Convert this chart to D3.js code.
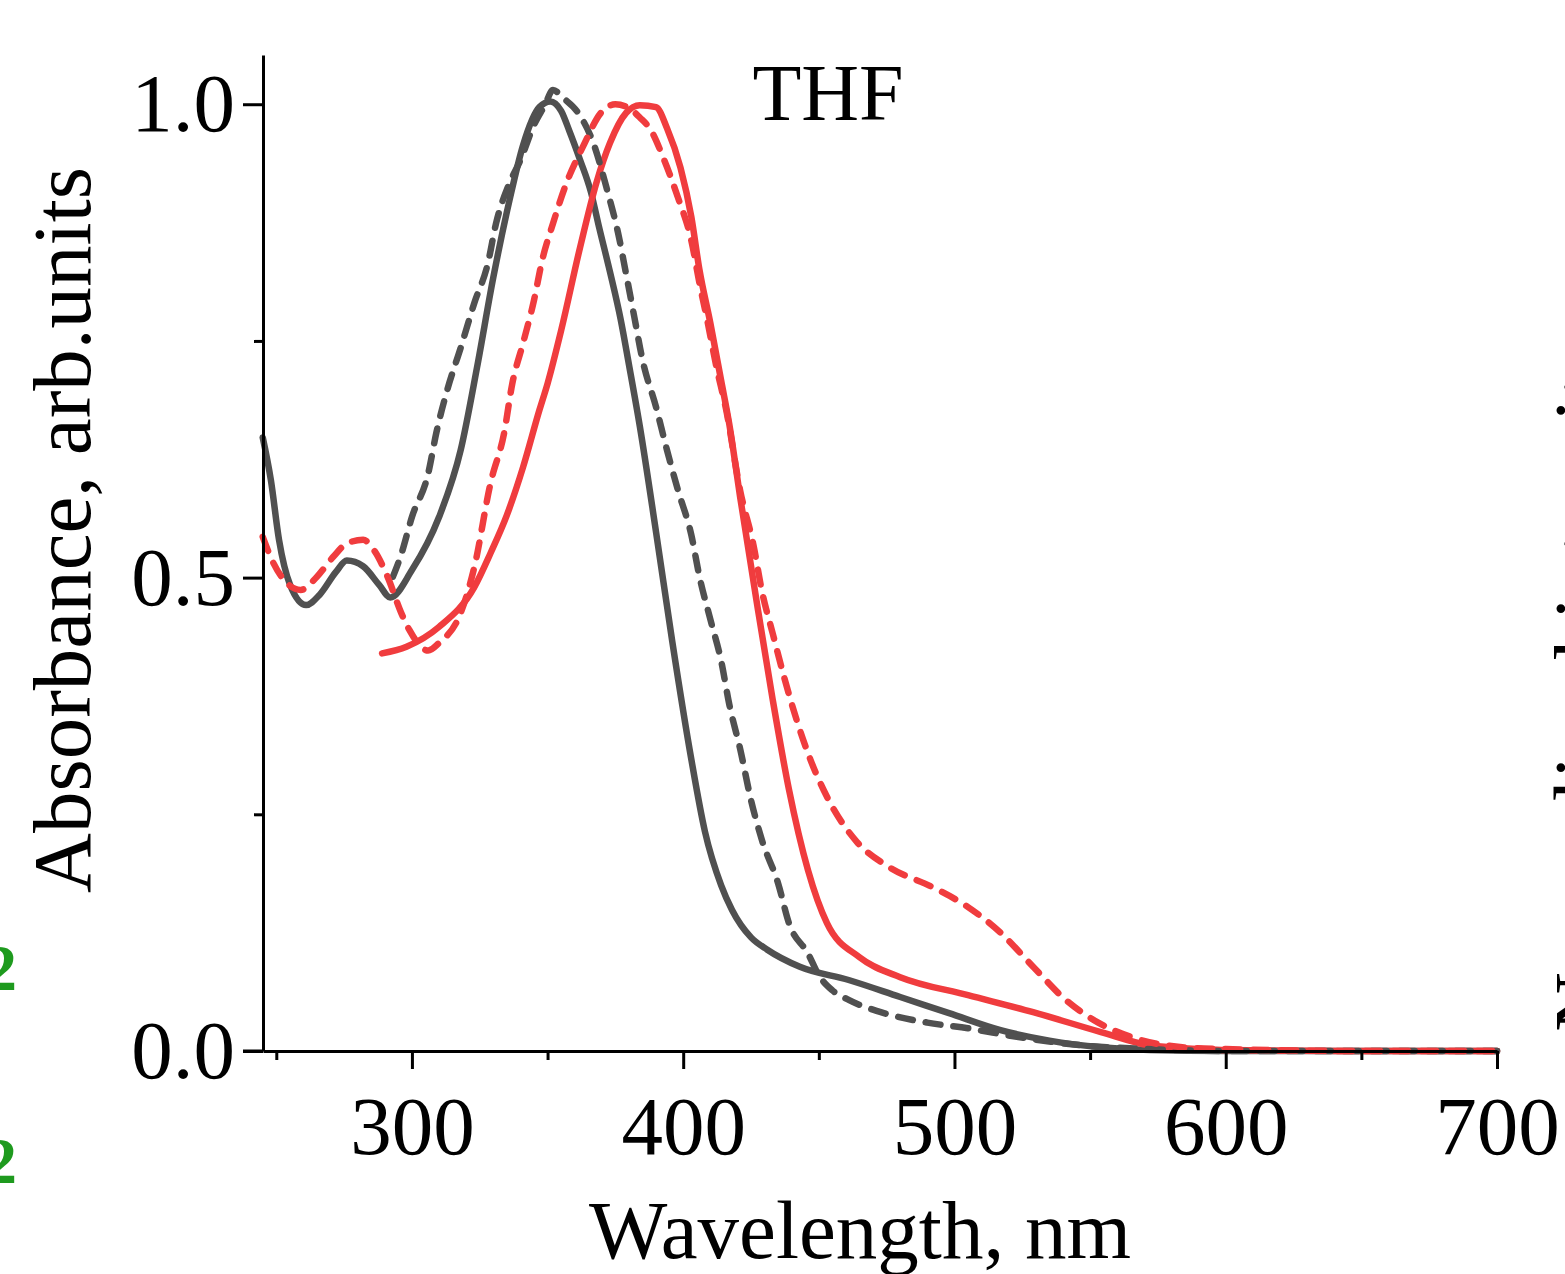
<!DOCTYPE html>
<html>
<head>
<meta charset="utf-8">
<script src="https://cdn.jsdelivr.net/npm/d3@7"></script>
<style>
  body { margin: 0; background: #fff; overflow: hidden; }
  svg { display: block; }
  text { font-family: "Liberation Serif", "Times New Roman", serif; }
</style>
</head>
<body>
<div id="chart"></div>
<script>
// wavelength (nm) / absorbance pairs
var blackSolidX = [245, 248, 251, 255, 261, 266, 272, 276, 282, 288, 292, 300, 310, 318, 324, 330, 336, 341, 347, 351, 355, 358, 362, 366, 369, 373, 377, 380, 384, 390, 396, 403, 408, 414, 418, 425, 431, 443, 461, 480, 498, 517, 535, 554, 572, 600, 650, 700];
var blackSolidY = [0.648, 0.603, 0.540, 0.493, 0.471, 0.482, 0.506, 0.518, 0.512, 0.492, 0.479, 0.508, 0.564, 0.635, 0.722, 0.817, 0.899, 0.957, 0.997, 1.003, 0.993, 0.972, 0.941, 0.907, 0.870, 0.823, 0.772, 0.725, 0.660, 0.548, 0.432, 0.308, 0.232, 0.175, 0.149, 0.120, 0.107, 0.089, 0.075, 0.057, 0.040, 0.022, 0.011, 0.004, 0.001, 0.000, 0.000, 0.000];

var blackDashX = [293, 296, 300, 306, 309, 313, 318, 323, 328, 331, 336, 340, 345, 349, 352, 356, 361, 367, 372, 376, 379, 382, 385, 390, 394, 398, 403, 406, 410, 414, 417, 421, 425, 429, 435, 439, 446, 450, 455, 461, 474, 490, 505, 523, 547, 572, 600, 650, 700];
var blackDashY = [0.501, 0.524, 0.564, 0.610, 0.653, 0.698, 0.743, 0.790, 0.832, 0.874, 0.917, 0.941, 0.978, 0.999, 1.015, 1.006, 0.992, 0.958, 0.909, 0.864, 0.820, 0.775, 0.730, 0.680, 0.635, 0.593, 0.545, 0.501, 0.456, 0.412, 0.366, 0.319, 0.265, 0.223, 0.177, 0.135, 0.103, 0.080, 0.064, 0.054, 0.040, 0.030, 0.024, 0.015, 0.006, 0.002, 0.000, 0.000, 0.000];

var redSolidX = [289, 298, 310, 323, 329, 335, 341, 347, 350, 355, 362, 368, 373, 379, 384, 390, 394, 399, 403, 406, 410, 414, 417, 421, 427, 433, 439, 446, 453, 465, 480, 505, 529, 554, 572, 591, 600, 650, 700];
var redSolidY = [0.420, 0.427, 0.448, 0.490, 0.526, 0.566, 0.617, 0.677, 0.705, 0.761, 0.849, 0.917, 0.959, 0.991, 0.999, 0.997, 0.975, 0.933, 0.881, 0.825, 0.769, 0.708, 0.662, 0.585, 0.476, 0.371, 0.276, 0.191, 0.135, 0.099, 0.078, 0.059, 0.041, 0.020, 0.006, 0.002, 0.001, 0.000, 0.000];

var redDashX = [245, 249, 253, 259, 265, 271, 276, 282, 286, 291, 296, 299, 306, 310, 318, 323, 329, 334, 337, 341, 345, 348, 352, 357, 363, 370, 375, 380, 384, 388, 393, 398, 403, 406, 409, 412, 416, 421, 426, 429, 433, 437, 442, 447, 454, 464, 476, 492, 505, 517, 529, 541, 553, 566, 584, 600, 650, 700];
var redDashY = [0.543, 0.515, 0.497, 0.487, 0.501, 0.522, 0.536, 0.540, 0.529, 0.501, 0.463, 0.445, 0.423, 0.431, 0.463, 0.511, 0.600, 0.653, 0.705, 0.748, 0.793, 0.835, 0.874, 0.917, 0.955, 0.992, 1.000, 0.996, 0.986, 0.973, 0.941, 0.902, 0.856, 0.811, 0.770, 0.726, 0.675, 0.592, 0.533, 0.486, 0.441, 0.397, 0.348, 0.307, 0.263, 0.221, 0.194, 0.173, 0.152, 0.125, 0.089, 0.054, 0.030, 0.014, 0.004, 0.002, 0.000, 0.000];

var xMajorTicks = [300, 400, 500, 600, 700];
var xMinorTicks = [250, 350, 450, 550, 650];
var yMajorTicks = [0, 0.5, 1.0];
var yMinorTicks = [0.25, 0.75];

var width = 1565, height = 1274;
// plot area edges (don't call these top/left: window.top is read only)
var plotLeft = 263, plotRight = 1497, plotTop = 55, plotBottom = 1051;

var svg = d3.select("#chart").append("svg")
  .attr("width", width)
  .attr("height", height);

var x = d3.scaleLinear().domain([245.1, 700]).range([plotLeft, plotRight]);
var y = d3.scaleLinear().domain([0, 1.052]).range([plotBottom, plotTop]);

//curves: solid first, dashed over them like the original
var series = [
  {xs: blackSolidX, ys: blackSolidY, color: "#505050", dash: null},
  {xs: redSolidX, ys: redSolidY, color: "#f03c3e", dash: null},
  {xs: blackDashX, ys: blackDashY, color: "#505050", dash: "15,13"},
  {xs: redDashX, ys: redDashY, color: "#f03c3e", dash: "15,13"}
];

var line = d3.line()
  .x(function (d) { return x(d[0]); })
  .y(function (d) { return y(d[1]); })
  .curve(d3.curveMonotoneX);

series.forEach(function (s) {
  var pts = s.xs.map(function (v, i) { return [v, s.ys[i]]; });
  svg.append("path")
    .datum(pts)
    .attr("fill", "none")
    .attr("stroke", s.color)
    .attr("stroke-width", 6.5)
    .attr("stroke-linecap", "round")
    .attr("stroke-linejoin", "round")
    .attr("stroke-dasharray", s.dash)
    .attr("d", line);
});

// x axis
svg.append("g")
  .attr("transform", "translate(0," + plotBottom + ")")
  .call(d3.axisBottom(x).tickValues(xMajorTicks).tickSize(18).tickSizeOuter(0).tickPadding(26));
svg.append("g")
  .attr("transform", "translate(0," + plotBottom + ")")
  .call(d3.axisBottom(x).tickValues(xMinorTicks).tickSize(9).tickFormat(""))
  .select(".domain").remove();

// y axis
svg.append("g")
  .attr("transform", "translate(" + plotLeft + ",0)")
  .call(d3.axisLeft(y).tickValues(yMajorTicks).tickSize(20).tickSizeOuter(0).tickPadding(8).tickFormat(d3.format(".1f")));
svg.append("g")
  .attr("transform", "translate(" + plotLeft + ",0)")
  .call(d3.axisLeft(y).tickValues(yMinorTicks).tickSize(9).tickFormat(""))
  .select(".domain").remove();

svg.selectAll(".tick line").attr("stroke", "#000").attr("stroke-width", 3);
svg.selectAll(".domain").attr("stroke", "#000").attr("stroke-width", 3);
svg.selectAll(".tick text")
  .attr("fill", "#000")
  .style("font-size", "83px")
  .style("font-family", "'Liberation Serif', 'Times New Roman', serif");

// x axis line reaches past the y axis like the original
svg.append("line")
  .attr("x1", plotLeft - 20).attr("x2", plotLeft)
  .attr("y1", plotBottom).attr("y2", plotBottom)
  .attr("stroke", "#000").attr("stroke-width", 3);

// labels
svg.append("text")
  .attr("x", 860)
  .attr("y", 1258)
  .attr("text-anchor", "middle")
  .style("font-size", "83px")
  .text("Wavelength, nm");

svg.append("text")
  .attr("transform", "translate(90,530) rotate(-90)")
  .attr("text-anchor", "middle")
  .style("font-size", "83px")
  .text("Absorbance, arb.units");

svg.append("text")
  .attr("x", 828)
  .attr("y", 120)
  .attr("text-anchor", "middle")
  .style("font-size", "80px")
  .text("THF");

// pieces of neighbouring panels cut by the figure edge
svg.append("text")
  .attr("x", 17).attr("y", 990)
  .attr("text-anchor", "end")
  .attr("fill", "#1e9a1e")
  .style("font-size", "66px").style("font-weight", "bold")
  .text("2");
svg.append("text")
  .attr("x", 17).attr("y", 1183)
  .attr("text-anchor", "end")
  .attr("fill", "#1e9a1e")
  .style("font-size", "66px").style("font-weight", "bold")
  .text("2");
svg.append("text")
  .attr("transform", "translate(1611,1032) rotate(-90)")
  .attr("text-anchor", "start")
  .style("font-size", "83px")
  .text("Normalized intensity");
</script>
</body>
</html>
